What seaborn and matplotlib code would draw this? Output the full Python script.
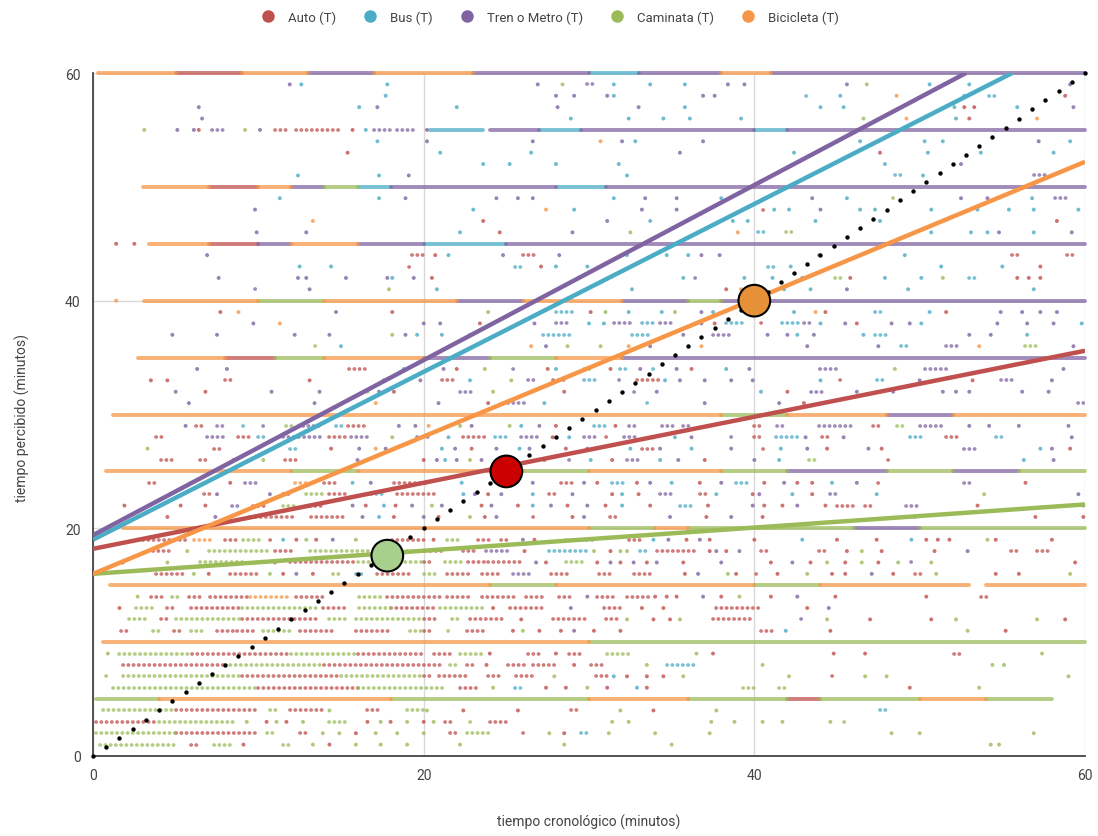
import matplotlib
matplotlib.use("Agg")
import matplotlib.pyplot as plt
import numpy as np
import pandas as pd
import seaborn as sns
from matplotlib.lines import Line2D

sns.set_theme(style="white")
plt.rcParams['font.family'] = ['Roboto', 'DejaVu Sans']

# ---------------- data ----------------
MODES = ["Auto (T)", "Bus (T)", "Tren o Metro (T)", "Caminata (T)", "Bicicleta (T)"]
CODES = ["a", "b", "t", "c", "k"]
COLORS = ["#c0504d", "#4bacc6", "#8064a2", "#9bbb59", "#f79646"]

# perceived minute -> observations "x<mode>" (single) or "x0-x1<mode>" (run of points)
ROWS_TOP = {
    59: "11.9t 12.6b 17.8b 26.9t 28.4c 29.9-30.4t 31.5b 33.7b 35.8b 38.4t 39.4t 45.6t 46.8c 50.6b 53.0b 59.1t",
    58: "17.7b 28.0t 29.1t 31.1t 31.5b 36.9t 37.6t 43.1-43.4b 45.2b 48.6k 52.7b 54.2-54.7b 58.8a",
    57: "6.4t 16.1b 17.2t 22.0b 28.1t 33.0t 35.8b 44.0b 45.4b 52.1b 52.7a 53.3a 55.9b 59.3t",
    56: "6.6t 28.9b 32.4b 34.5b 36.1b 39.2b 46.6c 49.2k 52.2b 53.0a 57.1k",
    55: "3.1c 5.1t 6.1t 6.4a 7.2-8.1t 9.2c 10.1t 11.0-11.9a 12.3-15.1a 15.7a 16.5b 17.0-18.0t 18.4-19.5t 20.2t",
    54: "17.2b 20.2t 26.6t 30.7k 32.0t 32.8b 36.9t 46.4b 50.3b 51.4b 57.2t 59.1b",
    53: "15.4a 21.0b 26.5b 35.5t 42.4b 47.6a 50.5b 53.7b 58.1b",
    52: "23.6b 25.2b 28.0b 31.8b 47.9b 52.5t",
    51: "12.4b 17.3b 19.1t 32.3b 48.5-49.0b 50.2b 56.9-57.6t",
    49: "11.3b 17.3b 18.9t 24.4t 25.7t 26.6t 31.5b 33.4t 35.3t 38.0b 43.5t 45.6b 48.4-48.6c 52.5t 54.1t 56.8b 58.2-58.9t",
    48: "9.8t 23.0b 27.4k 29.1b 33.2t 35.3t 40.5-40.7a 41.2b 42.1b 44.0t 46.4b 47.3b 50.7b 53.5b 55.4b 56.9b 59.6b",
    47: "13.3k 23.6a 31.1t 33.7b 35.9t 38.7b 39.6b 43.7b 47.6b 58.3a",
    46: "9.9t 12.9t 22.2b 24.6a 29.0t 32.5c 39.0k 40.2-40.7b 41.9-42.4c 50.7b 53.1b 54.1b 54.8t 56.9b 59.2t",
    44: "6.9t 19.3-20.0a 20.7a 21.5b 24.8t 26.0-26.7a 28.2t 32.3b 34.7b 36.0b 36.8t 37.9t 43.9-44.1t 49.1b 55.6-56.2a 58.9-59.4a",
    43: "12.5b 14.4b 19.1-19.3a 25.5-26.0b 27.1a 28.0b 29.9b 40.8-41.3b 42.2b 51.3b 55.0b 57.3a",
    42: "7.6t 12.4t 12.9t 15.3t 17.8t 18.1b 19.4t 20.5a 35.7b 36.4-36.6t 39.4b 41.1b 42.9b 44.9-45.4c 45.8a 47.9b 50.1b 51.4c 53.0-53.4b 55.9a 56.6a 57.3a",
    41: "9.8-10.0t 13.1t 17.9c 20.8b 32.6b 38.3a 39.2k 41.8b 43.4b 45.6t 49.3b 56.9b",
}

ROWS_MID = {
    39: "7.7a 8.8k 14.7t 18.1a 23.9c 28.0-29.1b 30.1a 31.0c 32.4b 34.4b 35.2c 36.8t 37.5b 42.4b 43.7k 44.3a 47.3-47.8b 50.6b 51.6a 54.9t 56.2t 57.3t 58.3t",
    38: "9.7t 11.3k 20.0t 21.0t 23.4a 26.7t 28.0-28.8t 30.0b 30.9b 31.5-32.7t 33.2-33.9b 34.3-35.2t 36.8t 37.6a 38.3-39.4b 40.4-40.7a 41.7-42.8b 43.0-43.5t 44.0b 45.5t 46.2a 48.3t 49.4t 50.1b 54.7t 56.5t 58.1t 59.8b",
    37: "4.8t 7.5t 12.2t 14.3t 18.1c 18.9t 19.6b 21.1b 22.8b 27.2-29.0b 32.6-33.9b 35.7t 37.5-38.6t 40.8t 42.0t 42.6b 43.6t 46.6b 47.3-48.0b 53.0t 54.3t 56.5b",
    36: "13.4-13.7c 15.0b 26.5k 27.4t 28.7c 30.7c 32.4k 33.7t 36.8k 43.2t 47.5t 48.9-49.5b 51.6-52.3t 53.6k 56.4-57.1c 59.3t",
    34: "6.3t 8.1t 15.5-16.6a 18.8b 21.2t 22.0a 23.7c 25.4-25.7t 27.5a 28.0b 29.7-30.2c 31.3a 31.9-32.5b 33.1t 33.9-34.2b 35.3t 36.2a 38.3b 39.7t 44.0-45.0t 48.5c 50.3-51.8t 58.7t",
    33: "3.5a 4.5a 8.0-8.6a 13.1a 17.6t 19.8t 21.1-21.9a 22.8b 25.3c 26.3-26.8t 27.8-28.6a 29.7-30.4b 31.8-32.1t 32.9-34.3a 34.6b 35.5t 37.0t 38.6t 39.9t 44.0b 45.2-45.5a 47.4-47.8b 50.0t 53.2a 54.9-55.7t 58.0t",
    32: "5.0t 6.8a 10.8t 13.7t 16.6c 17.3t 18.2a 22.2-22.9t 24.2c 28.5a 32.7-33.0t 34.1t 40.4b 42.0a 43.4-44.2t 46.2t 48.4t 51.4t 52.2t 53.0t 56.2t 57.8t",
    31: "5.8t 13.4t 17.1k 20.9t 23.9a 25.1-26.4t 27.3b 33.5-33.7b 37.0t 41.5t 43.0a 59.6-60.0t",
    29: "5.6t 6.2-6.8a 7.5-8.1t 9.1-9.4b 10.3-10.5t 11.7-12.3c 12.7-14.0t 14.7-15.1b 15.4-16.6a 18.5t 19.5t 20.3k 22.2c 22.9t 25.2c 25.9b 27.0t 28.0a 30.3-31.1b 31.6a 32.4-32.9t 34.4-35.1t 35.7-36.1t 40.0-40.6a 41.4-41.9t 43.9-45.9t 47.2-47.8a 48.6-49.2c 50.0-51.4t 53.0t 54.2t 56.0t 59.0t",
    28: "3.8-4.4a 6.9-8.1t 8.8-9.7a 10.0-10.6b 11.5-14.0t 14.3-15.3a 15.6-16.6t 18.1c 19.6-20.4t 21.5b 22.4-23.8a 24.3-25.1b 25.9-27.0t 27.8a 28.8b 29.7-30.4t 31.0-31.3a 32.1-32.9t 33.9a 35.2b 36.2t 38.6-38.9t 40.0-40.4a 41.3-42.7b 43.1t 44.1-44.7a 45.4t 49.4-50.1b 51.6-52.3a 54.6-55.2b 59.2t",
    27: "3.3c 7.3-7.7a 11.9-12.4b 14.4a 16.1t 17.1k 17.7t 21.1b 21.9t 22.9a 24.4t 25.8b 26.4t 28.6a 29.9t 32.5b 33.2-33.9a 34.3t 36.2b 38.6t 40.5-40.8a 41.6b 43.2t 44.4a 46.9t 47.7a 52.7-53.6t 57.3b 58.0t 59.1a",
    26: "4.1-4.8a 6.5-7.1a 8.5t 10.3c 11.6-12.5a 16.0t 20.0a 20.8t 21.3b 22.0t 22.8c 23.5t 27.3a 28.8-29.1t 30.1b 31.4a 32.3-33.1t 34.3b 35.4t 37.0a 40.0t 41.5b 43.3-43.9c 48.1-48.4a 56.3b 58.1t",
    24: "3.4-4.0a 5.9c 6.8t 8.3a 9.2-9.9t 12.2-12.9k 14.0-14.7a 15.7b 16.8t 18.2-20.4a 22.3b 26.6t 28.3-29.1a 29.7t 30.5a 31.4-32.1b 32.9a 33.7t 35.0b 36.7a 38.0t 38.9-39.7b 40.6a 41.8t 42.6a 43.5a 44.7b 46.2t 47.5-47.8a 52.7-53.3t 56.4a",
    23: "6.7-7.1a 7.5t 10.7t 11.5-11.9a 12.9-14.0c 14.3-15.5a 16.8-17.6b 18.4-20.7a 22.4b 23.1t 23.9a 24.7t 26.6b 27.6-28.0a 29.0t 31.4a 32.0b 33.0a 34.3-35.1t 36.7-37.3a 37.7b 39.9a 40.3t 42.3b 43.5a 44.6-45.1t 47.4b 53.9c 59.6t",
    22: "1.9a 5.3a 6.8a 8.4-9.0t 9.7-10.5a 11.5-12.3c 13.1-14.0a 15.7t 16.5a 17.6b 18.3a 19.3t 20.5c 21.1t 23.5a 24.1t 25.7a 26.6b 27.7t 28.7a 29.9t 31.0a 32.0b 33.7a 35.5-36.2b 37.2a 39.9t 40.6a 41.7a 42.6t 44.3a 45.0-46.0a 46.7-47.3a 49.2-50.0t 53.5a 59.9t",
    21: "4.5a 7.4t 9.5-12.3a 13.2-15.1a 16.3t 17.3b 18.2a 20.0t 20.9a 22.8c 23.7a 24.4t 26.6-26.9a 29.0a 29.7t 31.3-31.9a 34.9t 37.1a 38.6t 40.5a 49.7c 57.0a 59.9a",
}

ROWS_LOW = {
    19: "3.0-5.7a 6.1-7.2k 8.0-8.7a 9.1-10.3c 10.7-11.0a 11.5b 12.3a 12.9c 13.5a 14.5t 15.9c 18.1-20.0a 20.6a 21.4-22.1c 23.3-24.1a 24.7-25.1a 26.0t 26.7a 28.6-30.3b 32.4-33.2a 33.9b 34.8t 35.9a 36.7t 37.3a 40.0a 42.9b 45.0a 47.4a 49.5b 50.4a 51.1a 51.8a 54.1c 54.6a 58.0a",
    18: "3.6-4.7a 5.7c 7.0-10.8c 11.0-12.3a 13.1-16.8c 17.4-19.8c 19.8-21.2a 22.4-23.1a 23.8-25.1t 26.1a 27.6-29.9b 30.3c 31.3a 31.9c 32.3c 33.1-33.7b 34.1-36.5a 37.3a 37.7t 38.3a 39.1t 40.4-40.9a 43.9-44.4a 45.6a 46.5c 47.7a 50.9a 52.9t 55.5-55.9a 57.1-57.8a",
    17: "1.8a 4.5c 6.5-9.3c 11.0a 11.9-16.0a 16.0-20.0c 20.0-20.6a 21.3-22.4c 22.7-23.8a 23.9-25.8a 26.8t 27.4a 28.6-29.7c 30.5a 31.3t 31.9a 32.7t 33.5a 34.1t 35.7a 38.0t 41.0a 42.3t 43.4a 44.4c 45.5a 46.5c 47.5a 48.7c 49.5-49.7t 50.7c 59.4a",
    16: "3.8-5.7a 6.1c 7.0a 8.3-9.9a 10.7c 11.5a 12.3t 13.3a 14.5-15.1c 15.9-16.4b 17.2-19.2a 20.0-20.8c 21.4-22.8a 23.5-24.6a 25.4-26.7t 27.7-28.9a 30.6-31.4a 32.7-33.9a 35.8a 36.6t 38.4c 38.9a 40.1-40.4a 41.4a 43.2c 44.7a 45.5a 47.1t 48.4a 49.7-50.3a 51.0c 54.6a 56.0a 59.1c",
    14: "2.7c 3.5-4.2a 4.8-5.4c 5.8-6.5a 7.1-9.5a 9.5-11.9k 12.3-14.0a 16.1-17.4c 17.8-21.0a 21.4-23.0a 23.5-25.6a 26.2-27.2a 28.2-28.9a 29.9t 30.5-31.7a 32.3-33.7a 34.0a 34.7a 35.3a 36.9t 38.0a 39.1c 41.0a 42.6t 44.9a 50.4a 53.7-54.2a",
    13: "1.6a 2.6-3.9c 4.5-5.1a 5.9-9.0a 9.0-13.7c 13.9-15.5a 16.1-18.0c 18.0-20.7a 21.0-23.8c 24.2a 25.2-27.2a 28.9t 30.9-32.1a 33.2a 34.5a 37.7-40.3a 43.2a 44.5t",
    12: "2.2-3.3c 4.1-4.7a 5.0-9.0c 9.0-13.7a 14.3-15.5c 15.9-20.0c 20.0-20.7a 21.7-22.1c 22.8-25.0a 25.9a 27.8-29.9a 31.0-31.7a 32.3c 33.9a 34.9a 35.5c 37.5-40.0a 42.8-43.0t 44.4c 47.0a 50.7a 52.2c 57.1c 58.8a",
    11: "1.7-2.3a 3.6-4.1c 4.9-5.3a 5.9-6.7c 7.5-8.5a 8.7-9.7a 10.3-11.9c 12.5-14.7a 15.9-17.9a 19.2-20.0c 20.0-20.6a 21.5-21.8c 22.6-23.8a 25.4a 26.0c 27.0a 28.3a 29.1t 30.3a 31.9a 40.4-41.2a 41.9b 44.6a 52.9c 55.2a",
    9: "0.9c 1.6-6.0c 6.0-12.0a 12.0-16.0c 16.0-20.0a 20.6-21.8a 22.2-23.5c 24.0a 26.3-27.1a 28.0a 28.8-29.7a 31.1-32.5c 36.5c 37.5a 44.8a 46.7a 52.1-52.7a 57.4c",
    8: "1.8-8.0a 8.0-14.0c 14.0-21.2a 21.6-22.0c 22.6-23.0a 23.8a 25.1-26.2a 26.6-28.0a 29.1a 30.1-30.8a 33.5c 34.7-36.5b 40.5c 54.4c 55.1c",
    7: "0.8-1.1c 1.8-9.0c 9.0-15.0a 15.0-20.0c 20.0-20.6a 20.9-22.8a 23.9-24.8a 25.6-26.7a 27.9c 30.4-31.1a 31.5b 32.3a 33.5a 34.5a 35.7c 42.1c 44.7-44.9a 46.7c 48.0c 59.0c",
    6: "1.2-10.0c 10.0-16.0a 16.0-21.2c 22.2-23.3a 24.2c 25.5-26.0b 27.4a 28.6a 29.9c 31.1a 32.9b 33.5a 39.3-40.0c 41.5-41.9c 49.4a 53.6c",
    4: "0.6-5.0c 5.0-9.9a 10.7-11.1c 11.9-14.0a 14.3c 16.6-17.4a 19.0-20.0c 20.2c 22.4a 25.7a 28.9-29.5a 31.9c 33.9a 37.7c 47.6-48.0b",
    3: "0.2-4.0a 4.0-8.7c 9.3c 10.5a 11.1c 11.7a 12.7c 14.3-15.5c 16.6a 17.4c 18.0a 19.0c 20.0a 20.6c 21.3-21.7a 22.8-23.0c 24.0-25.0a 31.4c 32.4c 37.4c 38.8c 40.5c 41.7c 44.6c 45.4-45.6c",
    2: "0.2-5.0c 5.0-9.9a 10.5-11.1c 12.5-13.1a 13.9c 14.9c 15.9a 17.1c 18.4c 20.0c 21.6-22.0a 22.6-24.0c 26.0-26.2a 27.6c 28.5a 29.5-30.1b 31.2c 34.0c 37.3c 48.3c 50.0c 56.9c",
    1: "0.4-5.1c 5.9-6.5a 7.3-8.5c 9.1a 11.5-11.9c 13.3c 14.3a 15.9c 17.4c 19.0c 22.2c 28.5c 35.0c 54.3c 54.8c",
}

# very frequent answers (multiples of 5 minutes): long runs of points
ROWS_DENSE = {
    60: "0.3-5k 5-9a 9-13k 13-17t 17-23k 23-30t 30-33b 33-38t 38-41k 41-60t",
    55: "20.4-23.6b 24.0-27t 27-29.5b 29.5-40t 40-42b 42-60t",
    50: "3.0-7k 7-10a 10-12k 12-14t 14-16c 16-18b 18-28t 28-31b 31-60t",
    45: "1.4a 2.5a 3.4-7k 7-10a 10-12t 12-16k 16-20t 20-25b 25-60t",
    40: "1.4k 3.1-10k 10-14c 14-22k 22-26t 26-32k 32-36t 36-38c 38-60t",
    35: "2.7-8k 8-11a 11-14c 14-20k 20-24t 24-28c 28-32k 32-60t",
    30: "1.2-38k 38-42c 42-48k 48-52t 52-60k",
    25: "0.8-12k 12-16c 16-26k 26-30c 30-38k 38-42c 42-48t 48-52c 52-56t 56-60c",
    20: "1.8-30k 30-34c 34-36k 36-46c 46-50t 50-60c",
    15: "1.0-24k 24-28c 28-40k 40-44c 44-53k 54-60k",
    10: "0.6-30k 30-60c",
    5: "0.2-4c 4-18k 18-30c 30-36k 36-42c 42-44a 44-50c 50-54k 54-58c",
}

# linear trend lines (start / end points)
TREND_X0 = [0, 0, 0, 0, 0]
TREND_Y0 = [18.2, 19.0, 19.4, 16.0, 16.0]
TREND_X1 = [60, 55.6, 52.8, 60, 60]
TREND_Y1 = [35.6, 60, 60, 22.1, 52.2]

# y = x reference (black dots)
DIAG = [0, 0.8, 1.6, 2.4, 3.2, 4.0, 4.8, 5.6, 6.4, 7.2, 8.0, 8.8, 9.6, 10.4, 11.2, 12.0,
        12.8, 13.6, 14.4, 15.2, 16.0, 16.8, 17.6, 18.4, 19.2, 20.0, 20.8, 21.6, 22.4, 23.2,
        24.0, 24.8, 25.6, 26.4, 27.2, 28.0, 28.8, 29.6, 30.4, 31.2, 32.0, 32.8, 33.6, 34.4,
        35.2, 36.0, 36.8, 37.6, 38.4, 39.2, 40.0, 40.8, 41.6, 42.4, 43.2, 44.0, 44.8, 45.6,
        46.4, 47.2, 48.0, 48.8, 49.6, 50.4, 51.2, 52.0, 52.8, 53.6, 54.4, 55.2, 56.0, 56.8,
        57.6, 58.4, 59.2, 60.0]

# points where trend lines meet y = x
MEET_X = [25.0, 17.8, 40.0]
MEET_Y = [25.0, 17.6, 40.0]
MEET_COLORS = ["#cc0000", "#a8d08d", "#e69138"]


# ---------------- build tables ----------------
def parse(rows):
    dots, runs = [], []
    for y, s in rows.items():
        for tok in s.split():
            code, val = tok[-1], tok[:-1]
            if "-" in val:
                x0, x1 = map(float, val.split("-"))
                runs.append((y, x0, x1, code))
            else:
                dots.append((float(val), y, code))
    return dots, runs


code2mode = dict(zip(CODES, MODES))
palette = dict(zip(MODES, COLORS))
code2color = dict(zip(CODES, COLORS))

dense_dots, dense_runs = parse(ROWS_DENSE)
all_dots, all_runs = list(dense_dots), []
for rows in (ROWS_TOP, ROWS_MID, ROWS_LOW):
    d, r = parse(rows)
    all_dots += d
    all_runs += r

dots_df = pd.DataFrame(all_dots, columns=["x", "y", "code"])
dots_df["modo"] = dots_df["code"].map(code2mode)
runs_df = pd.DataFrame(all_runs, columns=["y", "x0", "x1", "code"])
dense_df = pd.DataFrame(dense_runs, columns=["y", "x0", "x1", "code"])

# ---------------- figure ----------------
fig = plt.figure(figsize=(10.98, 8.37), dpi=100)
ax = fig.add_axes([93 / 1098, 1 - 757 / 837, (1085 - 93) / 1098, (757 - 74) / 837])

ax.set_xlim(0, 60)
ax.set_ylim(0, 60)
ax.set_xticks([0, 20, 40, 60])
ax.set_yticks([0, 20, 40, 60])
ax.set_axisbelow(True)
ax.grid(True, color="#d9d9d9", lw=1.0)
for side in ("top", "right"):
    ax.spines[side].set_visible(False)
for side in ("left", "bottom"):
    ax.spines[side].set_color("#444444")
    ax.spines[side].set_linewidth(1.3)
ax.tick_params(length=0, labelsize=10, labelcolor="#444444", pad=9)

# long runs at multiples of five minutes
for code in CODES:
    sub = dense_df[dense_df["code"] == code]
    if len(sub):
        lc = ax.hlines(sub["y"], sub["x0"], sub["x1"], colors=code2color[code],
                       lw=2.8, alpha=0.75, zorder=2, clip_on=False)
        lc.set_capstyle("round")

# shorter runs of adjacent answers, drawn as rows of dots
for code in CODES:
    sub = runs_df[runs_df["code"] == code]
    if len(sub):
        lc = ax.hlines(sub["y"], sub["x0"], sub["x1"], colors=code2color[code],
                       lw=2.7, alpha=0.75, zorder=2, linestyles=[(0, (0.05, 1.35))])
        lc.set_capstyle("round")

# individual answers
sns.scatterplot(data=dots_df, x="x", y="y", hue="modo", palette=palette,
                s=8, linewidth=0, alpha=0.8, legend=False, ax=ax, zorder=2, clip_on=False)

# trend lines
for i, m in enumerate(MODES):
    tdf = pd.DataFrame({"x": [TREND_X0[i], TREND_X1[i]], "y": [TREND_Y0[i], TREND_Y1[i]]})
    sns.lineplot(data=tdf, x="x", y="y", color=COLORS[i], lw=3.2, ax=ax, zorder=3,
                 solid_capstyle="butt")

# y = x dotted reference
sns.scatterplot(x=DIAG, y=DIAG, color="black", s=10, linewidth=0, ax=ax, zorder=4,
                legend=False, clip_on=False)

# intersection markers
ax.scatter(MEET_X, MEET_Y, s=520, c=MEET_COLORS, edgecolors="black", linewidths=1.5, zorder=5)

ax.set_xlabel("")
ax.set_ylabel("")
fig.text(589 / 1098, 1 - 822 / 837, "tiempo cronológico (minutos)", ha="center", va="center",
         fontsize=10, color="#444444")
fig.text(22 / 1098, 1 - 418 / 837, "tiempo percibido (minutos)", ha="center", va="center",
         rotation=90, fontsize=10, color="#444444")

handles = [Line2D([0], [0], marker="o", linestyle="", markersize=9, markerfacecolor=c,
                  markeredgewidth=0, label=m) for m, c in zip(MODES, COLORS)]
leg = fig.legend(handles=handles, loc="center", bbox_to_anchor=(0.498, 1 - 18 / 837), ncol=5,
                 frameon=False, fontsize=9.5, handletextpad=0.5, columnspacing=1.6)
for t in leg.get_texts():
    t.set_color("#444444")

fig.savefig("out.png", dpi=100)
